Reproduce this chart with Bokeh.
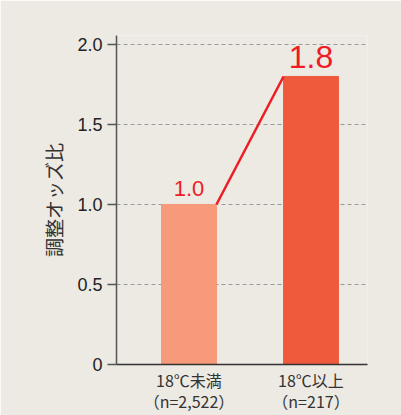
from bokeh.plotting import figure
from bokeh.models import FixedTicker, Range1d, ColumnDataSource
from bokeh.embed import file_html
from bokeh.resources import INLINE
from bokeh.core.properties import value

categories = ["18℃未満", "18℃以上"]
sample_sizes = ["（n=2,522）", "（n=217）"]
odds_ratio = [1.0, 1.8]
value_labels = ["1.0", "1.8"]
bar_colors = ["#f79a7a", "#f05a3c"]
y_ticks = [0, 0.5, 1.0, 1.5, 2.0]
y_tick_labels = ["0", "0.5", "1.0", "1.5", "2.0"]

BG = "#ede9e3"
positions = [i + 1 for i in range(len(categories))]
bar_w = 0.45

p = figure(width=401, height=415, output_backend="svg", toolbar_location=None,
           x_range=Range1d(0.406, 2.463), y_range=Range1d(0, 2.056),
           min_border_left=116, min_border_top=35, min_border_bottom=51, min_border_right=34)
p.background_fill_color = BG
p.border_fill_color = BG
p.outline_line_color = None

# grid
p.xgrid.grid_line_color = None
p.ygrid.grid_line_color = "#9a9a9a"
p.ygrid.grid_line_dash = "4 3"
p.ygrid.grid_line_width = 1
p.ygrid.ticker = FixedTicker(ticks=y_ticks[1:])

src = ColumnDataSource(dict(x=positions, top=odds_ratio, color=bar_colors,
                            lab=value_labels, fs=["22px", "32px"]))
p.vbar(x="x", top="top", width=bar_w, color="color", source=src)

# connecting red line: right top corner of first bar to left top corner of second
p.line(x=[positions[0] + bar_w / 2, positions[1] - bar_w / 2], y=odds_ratio,
       line_color="#ee1c25", line_width=2.5)

p.text(x="x", y="top", text="lab", source=src, text_color="#ee1c25",
       text_font=value("Liberation Sans"), text_font_size="fs",
       text_align="center", text_baseline="bottom", y_offset=-8)

# y axis
ya = p.yaxis[0]
ya.ticker = FixedTicker(ticks=y_ticks)
ya.major_label_overrides = {t: l for t, l in zip(y_ticks, y_tick_labels)}
ya.axis_label = "調整オッズ比"
ya.axis_label_text_font = "Noto Sans CJK JP"
ya.axis_label_text_font_style = "normal"
ya.axis_label_text_font_size = "19px"
ya.axis_label_text_color = "#333333"
ya.axis_label_standoff = 7
ya.major_label_text_font = "Liberation Sans"
ya.major_label_text_font_size = "18px"
ya.major_label_text_color = "#222222"
ya.major_label_standoff = 5
ya.axis_line_color = "#555555"
ya.axis_line_width = 1.5
ya.major_tick_line_color = "#555555"
ya.major_tick_line_width = 1.5
ya.major_tick_out = 9
ya.major_tick_in = 0
ya.minor_tick_line_color = None

# x axis: two-line labels (category, sample size)
xa = p.xaxis[0]
xa.ticker = FixedTicker(ticks=positions)
xa.major_label_overrides = {pos: f"{c}\n{n}" for pos, c, n in zip(positions, categories, sample_sizes)}
xa.major_label_text_font = "Noto Sans CJK JP"
xa.major_label_text_font_size = "16px"
xa.major_label_text_line_height = 0.88
xa.major_label_text_color = "#333333"
xa.major_label_standoff = 3
xa.major_tick_out = 0
xa.major_tick_in = 0
xa.axis_line_color = "#333333"
xa.axis_line_width = 1.5
xa.major_tick_line_color = None
xa.minor_tick_line_color = None

open("out.html", "w").write(file_html(p, INLINE))
